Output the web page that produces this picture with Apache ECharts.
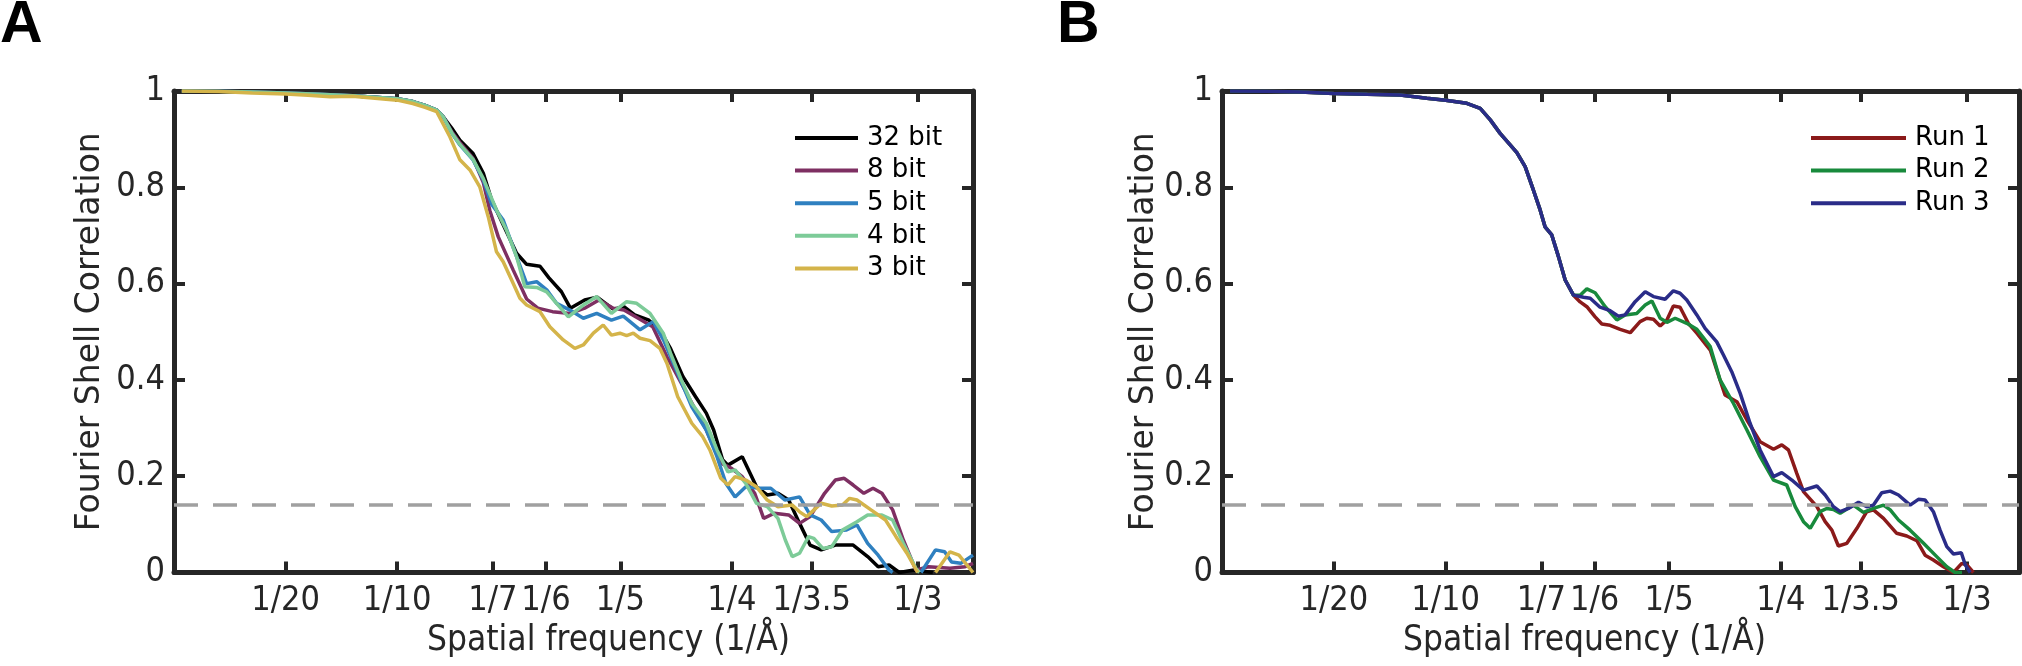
<!DOCTYPE html>
<html>
<head>
<meta charset="utf-8">
<script src="https://cdn.jsdelivr.net/npm/echarts@6/dist/echarts.min.js"></script>
<style>
html, body { margin: 0; padding: 0; background: #fff; }
#main { width: 2022px; height: 666px; }
</style>
</head>
<body>
<div id="main"></div>
<script>
// x ticks (spatial frequency, 1/Å)
var tickFreq = [1/20, 1/10, 1/7, 1/6, 1/5, 1/4, 1/3.5, 1/3];
var tickText = ['1/20', '1/10', '1/7', '1/6', '1/5', '1/4', '1/3.5', '1/3'];
var fscThreshold = 0.143;

// panel A: bit depth comparison, [frequency, FSC]
var shoulderA = [[0.0035,1.0],[0.02,0.9995],[0.035,0.998],[0.05,0.996],[0.065,0.993],[0.08,0.99],[0.09,0.987],[0.1,0.984],[0.107,0.978],[0.1125,0.97],[0.1177,0.9605],[0.1206,0.9466]];
var bit32 = [[0.1245,0.9225],[0.1281,0.898],[0.134,0.87],[0.1386,0.829],[0.1423,0.774],[0.1475,0.722],[0.1535,0.663],[0.158,0.64],[0.164,0.636],[0.168,0.612],[0.1736,0.583],[0.1776,0.549],[0.184,0.566],[0.1896,0.572],[0.1968,0.547],[0.2016,0.552],[0.2064,0.535],[0.2128,0.524],[0.2177,0.504],[0.2225,0.465],[0.228,0.407],[0.2337,0.365],[0.2385,0.331],[0.2418,0.296],[0.2458,0.234],[0.2482,0.223],[0.2546,0.2405],[0.261,0.178],[0.2658,0.161],[0.2706,0.1645],[0.2754,0.1505],[0.2803,0.102],[0.285,0.057],[0.29,0.047],[0.2963,0.057],[0.3043,0.057],[0.3108,0.033],[0.3155,0.012],[0.3204,0.0156],[0.325,0.0],[0.3316,0.005],[0.34,0.0]];
var bit8 = [[0.1245,0.915],[0.1281,0.893],[0.134,0.86],[0.1386,0.81],[0.1415,0.752],[0.1453,0.697],[0.152,0.628],[0.158,0.568],[0.163,0.549],[0.1696,0.5417],[0.1776,0.538],[0.184,0.549],[0.1904,0.566],[0.1968,0.549],[0.2016,0.545],[0.208,0.528],[0.2145,0.5105],[0.2209,0.448],[0.2273,0.393],[0.2337,0.3375],[0.2385,0.296],[0.245,0.227],[0.2498,0.2165],[0.2546,0.199],[0.2602,0.1645],[0.2642,0.1125],[0.269,0.123],[0.2754,0.1195],[0.2803,0.102],[0.285,0.116],[0.2915,0.1645],[0.2963,0.192],[0.3003,0.1956],[0.3043,0.1817],[0.3091,0.1645],[0.3132,0.175],[0.3172,0.1645],[0.322,0.13],[0.3268,0.0675],[0.3324,0.005],[0.338,0.012],[0.3477,0.0087],[0.3545,0.012],[0.358,0.019]];
var bit5 = [[0.1245,0.912],[0.1281,0.888],[0.134,0.857],[0.1386,0.815],[0.1423,0.765],[0.1475,0.732],[0.1535,0.656],[0.158,0.6],[0.1625,0.604],[0.167,0.587],[0.1714,0.559],[0.1774,0.545],[0.1834,0.528],[0.1894,0.538],[0.196,0.524],[0.2013,0.5325],[0.2088,0.504],[0.2147,0.521],[0.2193,0.483],[0.2257,0.4137],[0.232,0.344],[0.2385,0.296],[0.2433,0.2405],[0.2473,0.185],[0.2514,0.157],[0.2562,0.178],[0.2626,0.175],[0.2674,0.175],[0.2738,0.1505],[0.2803,0.157],[0.285,0.1195],[0.29,0.109],[0.2947,0.085],[0.3011,0.088],[0.306,0.0987],[0.3108,0.0606],[0.3155,0.036],[0.3204,0.005],[0.322,0.0],[0.328,null],[0.3347,0.0],[0.3412,0.047],[0.3453,0.043],[0.3484,0.022],[0.3525,0.019],[0.358,0.036]];
var bit4 = [[0.1245,0.913],[0.1281,0.889],[0.134,0.858],[0.1386,0.818],[0.1445,0.753],[0.149,0.711],[0.1535,0.656],[0.1572,0.5935],[0.1625,0.592],[0.167,0.583],[0.1714,0.559],[0.1767,0.531],[0.1834,0.5555],[0.1894,0.573],[0.196,0.538],[0.2028,0.5625],[0.2073,0.559],[0.2133,0.538],[0.2192,0.497],[0.2225,0.455],[0.2273,0.4],[0.232,0.351],[0.2385,0.31],[0.2433,0.2545],[0.2482,0.209],[0.2514,0.213],[0.2562,0.185],[0.261,0.1437],[0.2658,0.1367],[0.2706,0.1125],[0.2739,0.0675],[0.277,0.033],[0.2803,0.04],[0.2843,0.0744],[0.2867,0.071],[0.2907,0.05],[0.2947,0.0536],[0.2995,0.088],[0.306,0.1055],[0.3108,0.1195],[0.3172,0.1195],[0.322,0.109],[0.3268,0.0606],[0.3324,0.0087],[0.334,0.0]];
var bit3 = [[0.0035,1.0],[0.02,0.999],[0.035,0.996],[0.05,0.994],[0.06,0.991],[0.07,0.988],[0.08,0.989],[0.09,0.985],[0.1,0.981],[0.107,0.974],[0.1125,0.966],[0.1177,0.957],[0.1236,0.905],[0.1281,0.857],[0.1326,0.836],[0.137,0.801],[0.1408,0.739],[0.1445,0.666],[0.1475,0.6455],[0.152,0.6],[0.155,0.5695],[0.158,0.5555],[0.164,0.5417],[0.1684,0.5105],[0.1744,0.483],[0.1796,0.4656],[0.1834,0.4725],[0.1879,0.497],[0.1923,0.514],[0.196,0.493],[0.1998,0.497],[0.2028,0.492],[0.2058,0.497],[0.2088,0.4865],[0.2133,0.4815],[0.2177,0.4656],[0.2209,0.434],[0.2257,0.365],[0.232,0.31],[0.2369,0.282],[0.2401,0.2545],[0.245,0.1956],[0.2482,0.1817],[0.2514,0.199],[0.2562,0.192],[0.261,0.178],[0.2658,0.1505],[0.2706,0.1367],[0.277,0.14],[0.2803,0.126],[0.2835,0.116],[0.29,0.1437],[0.2947,0.138],[0.2995,0.14],[0.3027,0.154],[0.306,0.1505],[0.3123,0.13],[0.3188,0.109],[0.3235,0.0744],[0.3284,0.04],[0.3332,0.0],[0.337,null],[0.3412,0.0],[0.3477,0.043],[0.3517,0.036],[0.358,0.0]];

// panel B: repeat runs
var shoulderB = [[0.0036,1.0],[0.02,0.9995],[0.035,0.998],[0.05,0.995],[0.065,0.993],[0.0797,0.9917],[0.0916,0.985],[0.1,0.981],[0.1095,0.9745],[0.1155,0.964],[0.12,0.94],[0.1244,0.912],[0.1289,0.888],[0.1319,0.872],[0.1356,0.843],[0.1393,0.794],[0.1423,0.753],[0.1445,0.718],[0.1475,0.701],[0.1505,0.656],[0.1535,0.6075],[0.1572,0.576]];
var run1 = [[0.1602,0.562],[0.1632,0.552],[0.1669,0.531],[0.1699,0.516],[0.1736,0.5134],[0.1781,0.505],[0.1826,0.498],[0.187,0.521],[0.19,0.528],[0.193,0.526],[0.196,0.512],[0.199,0.5245],[0.2019,0.5535],[0.2049,0.551],[0.2086,0.5175],[0.2124,0.497],[0.2184,0.462],[0.2213,0.4205],[0.225,0.3686],[0.2303,0.3548],[0.2348,0.3167],[0.2407,0.2717],[0.2467,0.256],[0.2504,0.265],[0.2534,0.2544],[0.2571,0.206],[0.2601,0.168],[0.2661,0.1367],[0.2698,0.1055],[0.2728,0.088],[0.2757,0.055],[0.2795,0.0606],[0.284,0.0918],[0.2884,0.1263],[0.2914,0.13],[0.2959,0.1125],[0.3018,0.0814],[0.3063,0.0758],[0.3108,0.066],[0.3145,0.036],[0.3182,0.026],[0.3227,0.012],[0.3272,0.0],[0.3309,0.019],[0.3332,0.0156],[0.3361,0.0]];
var run2 = [[0.1602,0.576],[0.1632,0.589],[0.1669,0.581],[0.1714,0.552],[0.1766,0.5245],[0.1803,0.535],[0.1855,0.538],[0.1893,0.5555],[0.1923,0.564],[0.196,0.528],[0.199,0.5196],[0.2027,0.528],[0.2079,0.5175],[0.2124,0.505],[0.2184,0.469],[0.2228,0.4],[0.2288,0.351],[0.2348,0.296],[0.2407,0.2405],[0.2467,0.192],[0.2526,0.1817],[0.2564,0.1367],[0.2601,0.1055],[0.2631,0.0918],[0.2675,0.1263],[0.2705,0.133],[0.2735,0.131],[0.2765,0.123],[0.2824,0.14],[0.2869,0.125],[0.2914,0.133],[0.2959,0.14],[0.2989,0.13],[0.3026,0.109],[0.3078,0.088],[0.3138,0.0606],[0.3197,0.033],[0.3242,0.012],[0.3279,0.0],[0.331,0.0]];
var run3 = [[0.1617,0.5715],[0.1647,0.5695],[0.1691,0.551],[0.1736,0.5437],[0.1773,0.5325],[0.1803,0.535],[0.1848,0.5625],[0.1893,0.583],[0.193,0.573],[0.1982,0.5675],[0.2019,0.585],[0.2049,0.58],[0.2079,0.566],[0.2124,0.535],[0.2161,0.507],[0.2213,0.479],[0.2243,0.4517],[0.228,0.417],[0.2318,0.372],[0.2362,0.31],[0.2407,0.2545],[0.2467,0.199],[0.2504,0.2073],[0.2549,0.192],[0.2601,0.171],[0.2661,0.1796],[0.2698,0.161],[0.2735,0.1367],[0.2765,0.1263],[0.2802,0.133],[0.2847,0.1458],[0.2884,0.1367],[0.2914,0.14],[0.2951,0.1657],[0.2989,0.169],[0.3026,0.161],[0.3078,0.14],[0.3115,0.152],[0.3145,0.1505],[0.3182,0.1263],[0.3212,0.088],[0.3242,0.0536],[0.3272,0.0384],[0.3307,0.041],[0.3325,0.0156],[0.3347,0.0]];

var namesA = ['32 bit', '8 bit', '5 bit', '4 bit', '3 bit'];
var colorsA = ['#000000', '#7e2f62', '#2f80c0', '#7dcb98', '#d4b44a'];
var namesB = ['Run 1', 'Run 2', 'Run 3'];
var colorsB = ['#8b1a1a', '#188a3c', '#2a2c88'];

var font = '"DejaVu Sans", sans-serif';
var narrow = '"DejaVu Sans Condensed", "Liberation Sans Narrow", "DejaVu Sans", sans-serif';
var frame = '#262626';

function tickLabel(v) {
    for (var i = 0; i < tickFreq.length; i++) {
        if (Math.abs(tickFreq[i] - v) < 1e-6) return tickText[i];
    }
    return '';
}

function xAxes(g, max, namePad) {
    var line = {show: true, onZero: false, lineStyle: {color: frame, width: 5}};
    var tick = {show: true, inside: true, length: 11, customValues: tickFreq, lineStyle: {color: frame, width: 4}};
    return [{
        type: 'value', gridIndex: g, min: 0, max: max, position: 'bottom',
        name: 'Spatial frequency (1/Å)', nameLocation: 'middle', nameGap: 50,
        nameTextStyle: {fontSize: 35, color: frame, fontFamily: narrow, padding: namePad},
        axisLine: line, axisTick: tick,
        axisLabel: {customValues: tickFreq, formatter: tickLabel, fontSize: 34, color: frame, fontFamily: narrow, margin: 12},
        splitLine: {show: false}
    }, {
        type: 'value', gridIndex: g, min: 0, max: max, position: 'top',
        axisLine: line, axisTick: tick, axisLabel: {show: false}, splitLine: {show: false}
    }];
}

function yAxes(g, gap) {
    var line = {show: true, onZero: false, lineStyle: {color: frame, width: 5}};
    var tick = {show: true, inside: true, length: 11, lineStyle: {color: frame, width: 4}};
    return [{
        type: 'value', gridIndex: g, min: 0, max: 1, interval: 0.2, position: 'left',
        name: 'Fourier Shell Correlation', nameLocation: 'middle', nameGap: gap,
        nameTextStyle: {fontSize: 33, color: frame, fontFamily: font},
        axisLine: line, axisTick: tick,
        axisLabel: {fontSize: 34, color: frame, fontFamily: narrow, margin: 9},
        splitLine: {show: false}
    }, {
        type: 'value', gridIndex: g, min: 0, max: 1, interval: 0.2, position: 'right',
        axisLine: line, axisTick: tick, axisLabel: {show: false}, splitLine: {show: false}
    }];
}

function curve(name, color, data, xi, yi) {
    return {
        type: 'line', name: name, xAxisIndex: xi, yAxisIndex: yi, data: data,
        showSymbol: false, symbol: 'none', clip: true, animation: false,
        lineStyle: {width: 3.5, color: color}, itemStyle: {color: color}
    };
}

function threshold(xi, yi) {
    return {
        type: 'line', xAxisIndex: xi, yAxisIndex: yi, data: [], z: 1, animation: false,
        markLine: {
            silent: true, symbol: 'none', animation: false, label: {show: false},
            lineStyle: {color: '#a0a0a0', width: 3.5, type: [24, 15]},
            data: [{yAxis: fscThreshold}]
        }
    };
}

var seriesA = [bit32, bit8, bit5, bit4].map(function (d) { return shoulderA.concat(d); }).concat([bit3]);
var seriesB = [run1, run2, run3].map(function (d) { return shoulderB.concat(d); });

var series = [threshold(0, 0), threshold(2, 2)];
namesA.forEach(function (n, i) { series.push(curve(n, colorsA[i], seriesA[i], 0, 0)); });
namesB.forEach(function (n, i) { series.push(curve(n, colorsB[i], seriesB[i], 2, 2)); });

var legendText = {fontSize: 26, color: '#000', fontFamily: font, padding: [0, 0, 0, 4]};

var myChart = echarts.init(document.getElementById('main'));
var option = {
    animation: false,
    grid: [
        {left: 174, top: 91, width: 799, height: 481.5},
        {left: 1222, top: 91, width: 797, height: 481.5}
    ],
    xAxis: xAxes(0, 0.358, [0, 0, 0, 70]).concat(xAxes(1, 0.3565, [0, 72, 0, 0])),
    yAxis: yAxes(0, 67).concat(yAxes(1, 55)),
    legend: [
        {data: namesA, orient: 'vertical', left: 790, top: 120, icon: 'rect', itemWidth: 63, itemHeight: 4, itemGap: 6.6, textStyle: legendText},
        {data: namesB, orient: 'vertical', left: 1806, top: 120, icon: 'rect', itemWidth: 95, itemHeight: 4, itemGap: 6.6, textStyle: legendText}
    ],
    graphic: [
        {type: 'text', left: 0, top: -4, style: {text: 'A', font: 'bold 59px "Liberation Sans"', fill: '#000'}},
        {type: 'text', left: 1057, top: -4, style: {text: 'B', font: 'bold 59px "Liberation Sans"', fill: '#000'}}
    ],
    series: series
};
myChart.setOption(option);
</script>
</body>
</html>
